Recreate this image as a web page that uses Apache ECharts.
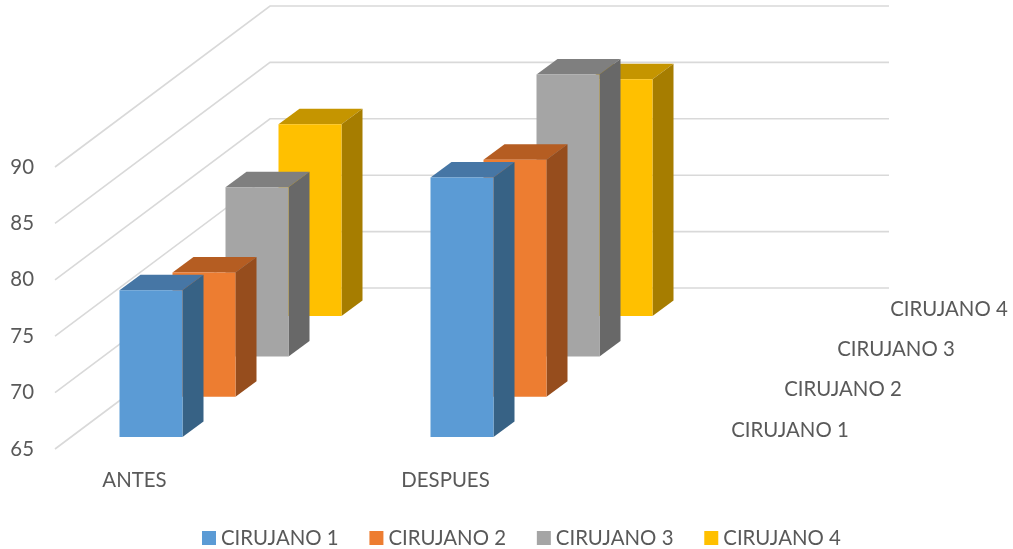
<!DOCTYPE html>
<html><head><meta charset="utf-8">
<style>html,body{margin:0;padding:0;background:#fff}#c{width:1013px;height:549px}</style>
<script src="https://cdn.jsdelivr.net/npm/echarts@6/dist/echarts.min.js"></script>
</head><body><div id="c"></div>
<script>
var categories = ['ANTES', 'DESPUES'];
var surgeons = ['CIRUJANO 1', 'CIRUJANO 2', 'CIRUJANO 3', 'CIRUJANO 4'];
var cirujano1 = [78, 88];
var cirujano2 = [76, 86];
var cirujano3 = [80, 90];
var cirujano4 = [82, 86];
var yTicks = [65, 70, 75, 80, 85, 90];
var allValues = [cirujano1, cirujano2, cirujano3, cirujano4];

var faces = [
  {front:'#5B9BD5', top:'#4676A5', side:'#376285'},
  {front:'#ED7D31', top:'#B55D22', side:'#964D1D'},
  {front:'#A5A5A5', top:'#7F7F7F', side:'#686868'},
  {front:'#FFC000', top:'#C59500', side:'#A67D00'}
];
var FONT = 'Lato', TXT = '#595959', FS = 20.4;
var BAR_W = 63, SIDE_X = 21, SIDE_Y = 15.5, STEP_X = 53, STEP_Y = 40.3, FRONT_X = 0.5, FRONT_Y = 12;
var WALL_X = 215, WALL_Y = 161, WALL_LEFT = 55, WALL_RIGHT = 889;

function barSeries(idx) {
  return {
    type: 'custom', name: surgeons[idx], coordinateSystem: 'cartesian2d',
    itemStyle: {color: faces[idx].front}, z: 10 - idx,
    encode: {x: 0, y: 1},
    data: allValues[idx].map(function (v, i) { return [i, v]; }),
    renderItem: function (params, api) {
      var base = api.coord([api.value(0), yTicks[0]]);
      var top = api.coord([api.value(0), api.value(1)]);
      var l = base[0] + 16 + FRONT_X + idx * STEP_X - BAR_W / 2;
      var r = l + BAR_W;
      var by = base[1] - FRONT_Y - idx * STEP_Y;
      var ty = top[1] - FRONT_Y - idx * STEP_Y;
      var c = faces[idx];
      return {type: 'group', children: [
        {type: 'polygon', shape: {points: [[l, ty], [r, ty], [r + SIDE_X, ty - SIDE_Y], [l + SIDE_X, ty - SIDE_Y]]}, style: {fill: c.top}},
        {type: 'polygon', shape: {points: [[r, ty], [r + SIDE_X, ty - SIDE_Y], [r + SIDE_X, by - SIDE_Y], [r, by]]}, style: {fill: c.side}},
        {type: 'rect', shape: {x: l, y: ty, width: BAR_W, height: by - ty}, style: {fill: c.front}}
      ]};
    }
  };
}

var wallSeries = {
  type: 'custom', silent: true, z: 1, tooltip: {show: false},
  encode: {y: 0},
  data: yTicks.map(function (t) { return [t]; }),
  renderItem: function (params, api) {
    var p = api.coord([0, api.value(0)]);
    return {type: 'polyline', shape: {points: [[WALL_LEFT, p[1]], [WALL_LEFT + WALL_X, p[1] - WALL_Y], [WALL_RIGHT, p[1] - WALL_Y]]},
      style: {fill: null, stroke: '#D9D9D9', lineWidth: 1.6}};
  }
};

var depthSeries = {
  type: 'custom', silent: true, z: 2,
  data: surgeons.map(function (s, i) { return [i]; }),
  renderItem: function (params, api) {
    var i = api.value(0);
    var p = api.coord([1, yTicks[0]]);
    return {type: 'text', style: {text: surgeons[i], x: 790 + i * STEP_X, y: p[1] - 19 - i * STEP_Y, align: 'center', verticalAlign: 'middle',
      fill: TXT, font: FS + 'px ' + FONT}};
  }
};

var chart = echarts.init(document.getElementById('c'));
chart.setOption({
  animation: false,
  backgroundColor: '#fff',
  grid: {left: -21, width: 622, top: 167, height: 282, containLabel: false, outerBoundsMode: 'none'},
  legend: {
    data: surgeons, left: 197, top: 523, itemWidth: 14, itemHeight: 14, itemGap: 30.8, icon: 'rect',
    textStyle: {color: TXT, fontFamily: FONT, fontSize: FS}
  },
  xAxis: {type: 'category', data: categories, axisLine: {show: false}, axisTick: {show: false}, splitLine: {show: false},
    axisLabel: {color: TXT, fontFamily: FONT, fontSize: FS, margin: 21}},
  yAxis: {type: 'value', min: 65, max: 90, interval: 5, offset: -60, axisLine: {show: false}, axisTick: {show: false}, splitLine: {show: false},
    axisLabel: {color: TXT, fontFamily: FONT, fontSize: FS, margin: 5, padding: [4, 0, 0, 0]}},
  series: [wallSeries, depthSeries, barSeries(3), barSeries(2), barSeries(1), barSeries(0)]
});
</script></body></html>
